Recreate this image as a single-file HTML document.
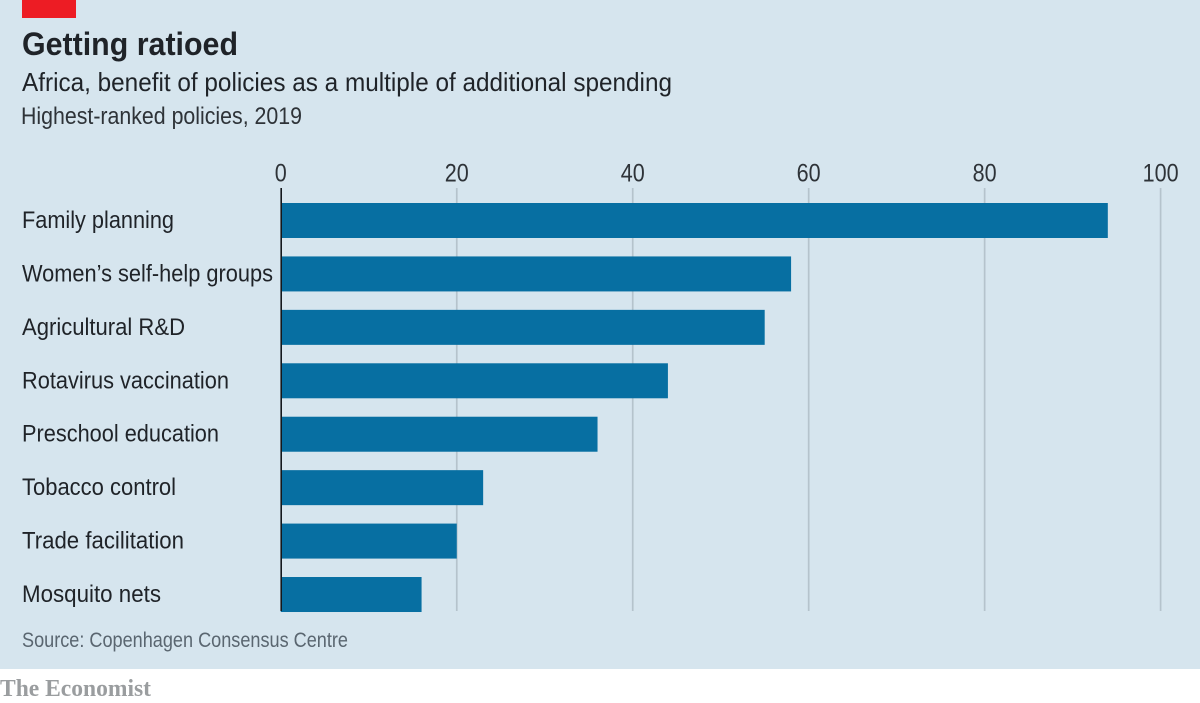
<!DOCTYPE html>
<html lang="en">
<head>
<meta charset="utf-8">
<title>Getting ratioed</title>
<style>
html,body{margin:0;padding:0;background:#fff;width:1200px;height:703px;overflow:hidden}
svg{display:block}
text{font-family:"Liberation Sans",sans-serif}
</style>
</head>
<body>
<svg id="chart" xmlns="http://www.w3.org/2000/svg" width="1200" height="703" viewBox="0 0 1200 703">
  <rect x="0" y="0" width="1200" height="669" fill="#d6e5ee"/>
  <rect x="22" y="0" width="54" height="18" fill="#ed1c24"/>
  <text x="22" y="55" font-size="32" font-weight="700" fill="#1f2328" textLength="216" lengthAdjust="spacingAndGlyphs">Getting ratioed</text>
  <text x="22" y="91" font-size="26" fill="#1f2328" textLength="650" lengthAdjust="spacingAndGlyphs">Africa, benefit of policies as a multiple of additional spending</text>
  <text x="21" y="124" font-size="24" fill="#2e3338" textLength="281" lengthAdjust="spacingAndGlyphs">Highest-ranked policies, 2019</text>
  <g id="gridlines"></g>
  <g id="ticks"></g>
  <g id="bars"></g>
  <g id="labels"></g>
  <line x1="281.2" y1="188" x2="281.2" y2="611" stroke="#14181c" stroke-width="1.6"/>
  <text x="22" y="647" font-size="21" fill="#5a6670" textLength="326" lengthAdjust="spacingAndGlyphs">Source: Copenhagen Consensus Centre</text>
  <text x="0" y="696" font-size="24" font-weight="700" fill="#9a9d9f" textLength="151" lengthAdjust="spacingAndGlyphs" style="font-family:'Liberation Serif',serif">The Economist</text>
</svg>
<script>
const categories = ["Family planning", "Women\u2019s self-help groups", "Agricultural R&D", "Rotavirus vaccination", "Preschool education", "Tobacco control", "Trade facilitation", "Mosquito nets"];
const benefitValues = [94, 58, 55, 44, 36, 23, 20, 16];
const tickValues = [0, 20, 40, 60, 80, 100];
const labelWidths = [152, 251, 163, 207, 197, 154, 162, 139];

const SVG_NS = "http://www.w3.org/2000/svg";
const xScale = function (v) { return 280.8 + v * 8.798; };
const yScale = function (i) { return 203 + i * 53.43; };
const BAR_HEIGHT = 35;

const gridGroup = document.getElementById("gridlines");
const tickGroup = document.getElementById("ticks");
const barGroup = document.getElementById("bars");
const labelGroup = document.getElementById("labels");

tickValues.forEach(function (t) {
  if (t !== 0) {
    const line = document.createElementNS(SVG_NS, "line");
    line.setAttribute("x1", xScale(t));
    line.setAttribute("x2", xScale(t));
    line.setAttribute("y1", 188);
    line.setAttribute("y2", 611);
    line.setAttribute("stroke", "#b5c3cc");
    line.setAttribute("stroke-width", "1.7");
    
    
    gridGroup.appendChild(line);
  }
  const tick = document.createElementNS(SVG_NS, "text");
  tick.setAttribute("x", xScale(t));
  tick.setAttribute("y", 181.5);
  tick.setAttribute("font-size", "25");
  tick.setAttribute("fill", "#2e3338");
  tick.setAttribute("text-anchor", "middle");
  tick.setAttribute("textLength", String(t).length * 12);
  tick.setAttribute("lengthAdjust", "spacingAndGlyphs");
  
  
  tick.textContent = String(t);
  tickGroup.appendChild(tick);
});

categories.forEach(function (name, i) {
  const bar = document.createElementNS(SVG_NS, "rect");
  bar.setAttribute("x", xScale(0));
  bar.setAttribute("y", yScale(i));
  bar.setAttribute("width", xScale(benefitValues[i]) - xScale(0));
  bar.setAttribute("height", BAR_HEIGHT);
  bar.setAttribute("fill", "#076fa2");
  
  
  barGroup.appendChild(bar);

  const label = document.createElementNS(SVG_NS, "text");
  label.setAttribute("x", 22);
  label.setAttribute("y", yScale(i) + 25);
  label.setAttribute("font-size", "24");
  label.setAttribute("fill", "#1f2328");
  label.setAttribute("textLength", labelWidths[i]);
  label.setAttribute("lengthAdjust", "spacingAndGlyphs");
  
  
  label.textContent = name;
  labelGroup.appendChild(label);
});
</script>
</body>
</html>
